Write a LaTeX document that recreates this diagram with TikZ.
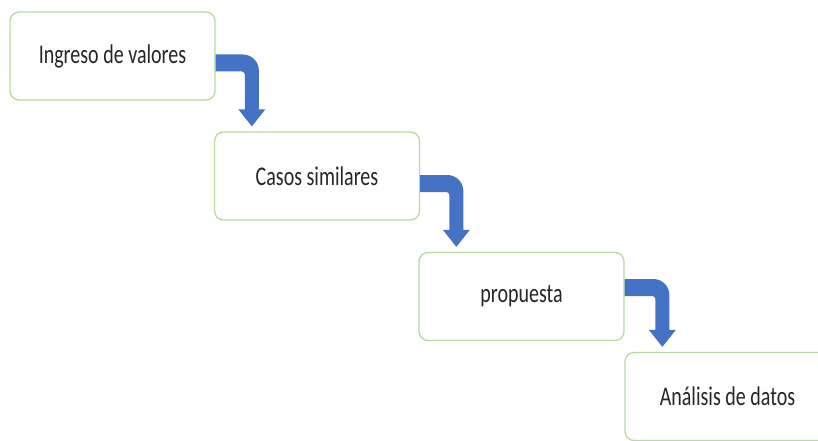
\documentclass[tikz,border=0pt]{standalone}
\usepackage{fontspec}
\setmainfont{Carlito}
\usetikzlibrary{calc}
\definecolor{boxline}{RGB}{184,218,160}
\definecolor{arrowblue}{RGB}{68,114,196}
\definecolor{txt}{RGB}{38,38,38}
% labels are set a little taller than their natural shape
\newcommand\steplabel[1]{\scalebox{1}[1.35]{#1}}
\tikzset{
  stepbox/.style={draw=boxline, line width=1.3pt, fill=white, rounded corners=9pt,
    minimum width=205pt, minimum height=88pt, inner sep=0pt,
    font=\fontsize{20}{24}\selectfont, text=txt},
  blockarrow/.style={fill=arrowblue}
}
% bent block arrow from the right side of #1 down onto the top of #2;
% #3 moves the horizontal band down from the centre of #1
\newcommand\bendto[3]{%
  \fill[blockarrow] let \p1=(#1.east), \p2=(#2.north west),
      \n1={\x2+38pt}, \n2={\y1-#3+8.5pt}, \n3={\y1-#3-8.5pt} in
    (\x1,\n2) -- ({\n1-9pt},\n2) arc[start angle=90, end angle=0, radius=16pt]
    -- ({\n1+7pt},{\y2+22pt}) -- ({\n1+13.5pt},{\y2+22pt})
    -- (\n1,{\y2+5pt})
    -- ({\n1-13.5pt},{\y2+22pt}) -- ({\n1-7pt},{\y2+22pt})
    -- ({\n1-7pt},{\n3-3pt}) arc[start angle=0, end angle=90, radius=3pt]
    -- (\x1,\n3) -- cycle;%
}
\begin{document}
\begin{tikzpicture}[x=1pt, y=-1pt]
  \useasboundingbox (0,0) rectangle (818,441);
  \clip (0,0) rectangle (818,441);
  \node[stepbox] (b1) at (112.5,56) {\steplabel{Ingreso de valores}};
  \node[stepbox] (b2) at (317,176) {\steplabel{Casos similares}};
  \node[stepbox] (b3) at (521.5,296.5) {\steplabel{propuesta}};
  \node[stepbox] (b4) at (727.5,396.5) {\steplabel{Análisis de datos}};
  \bendto{b1}{b2}{7pt}
  \bendto{b2}{b3}{7.5pt}
  \bendto{b3}{b4}{-9pt}
\end{tikzpicture}
\end{document}
